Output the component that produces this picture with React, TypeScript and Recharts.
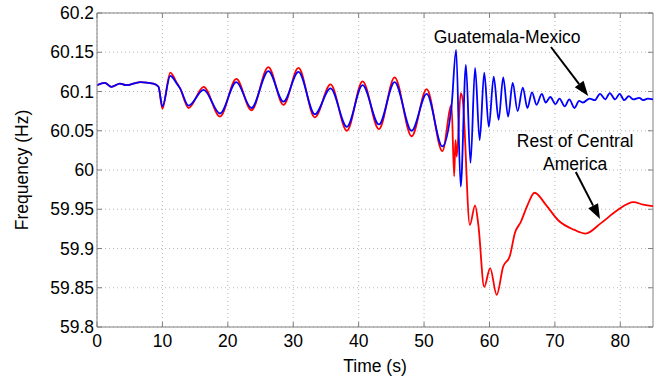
import { CartesianGrid, Line, LineChart, ReferenceDot, ReferenceLine, XAxis, YAxis } from "recharts";

// Guatemala-Mexico (blue)
const blueTime = [
  0, 1.2, 2.2, 3.5, 4.5, 6.6, 8.6, 9.4, 10.0, 11.2, 12.2, 12.7, 14.0, 16.3, 18.8, 21.3, 23.6, 26.2, 28.5,
  30.8, 33.3, 35.7, 38.2, 40.6, 43.1, 45.5, 48.1, 50.4, 52.8, 54.2, 54.9, 55.6, 56.4, 57.1, 57.8, 58.5,
  59.2, 59.9, 60.65, 61.4, 62.1, 62.85, 63.55, 64.3, 65.1, 65.8, 66.5, 67.2, 68.0, 68.6, 69.3, 70.1,
  70.7, 71.5, 72.2, 73.0, 73.7, 74.3, 75.3, 76.1, 76.9, 77.7, 78.4, 79.2, 79.9, 80.6, 81.3, 82.0, 82.9,
  83.5, 84.2, 85,
];
const blueFreq = [
  60.108, 60.111, 60.106, 60.11, 60.108, 60.112, 60.11, 60.106, 60.081, 60.12, 60.11, 60.104, 60.082,
  60.102, 60.072, 60.112, 60.079, 60.126, 60.087, 60.125, 60.071, 60.104, 60.055, 60.108, 60.058,
  60.112, 60.05, 60.097, 60.03, 60.081, 60.153, 59.979, 60.134, 60.009, 60.13, 60.038, 60.124, 60.055,
  60.119, 60.064, 60.118, 60.068, 60.111, 60.075, 60.105, 60.079, 60.099, 60.083, 60.097, 60.086,
  60.093, 60.084, 60.091, 60.081, 60.09, 60.079, 60.088, 60.086, 60.091, 60.089, 60.097, 60.09, 60.098,
  60.09, 60.097, 60.089, 60.094, 60.09, 60.092, 60.089, 60.091, 60.09,
];

// Rest of Central America (red)
const redTime = [
  0, 1.2, 2.2, 3.5, 4.5, 6.6, 8.6, 9.4, 10.0, 11.2, 12.2, 12.7, 14.0, 16.3, 18.8, 21.3, 23.6, 26.2, 28.5,
  30.8, 33.3, 35.7, 38.2, 40.6, 43.1, 45.5, 48.1, 50.4, 52.8, 54.2, 54.6, 54.8, 55.0, 55.6, 55.9, 57.0,
  57.8, 58.3, 59.2, 60.1, 61.1, 62.1, 63.1, 63.9, 64.8, 65.8, 66.9, 68.6, 70.5, 72.9, 74.7, 77.0, 79.6,
  82.0, 83.5, 85,
];
const redFreq = [
  60.108, 60.111, 60.106, 60.11, 60.108, 60.112, 60.11, 60.106, 60.078, 60.124, 60.111, 60.104, 60.079,
  60.106, 60.068, 60.116, 60.076, 60.131, 60.083, 60.13, 60.067, 60.109, 60.05, 60.113, 60.052, 60.118,
  60.043, 60.103, 60.024, 60.083, 59.992, 60.038, 60.017, 60.098, 60.09, 59.93, 59.955, 59.93, 59.851,
  59.875, 59.841, 59.877, 59.89, 59.92, 59.934, 59.955, 59.971, 59.956, 59.936, 59.924, 59.919, 59.932,
  59.949, 59.959, 59.956, 59.954,
];

const xTicks = [0, 10, 20, 30, 40, 50, 60, 70, 80];
const yTicks = [59.8, 59.85, 59.9, 59.95, 60, 60.05, 60.1, 60.15, 60.2];

const blueData = blueTime.map((t, i) => ({ t, f: blueFreq[i] }));
const redData = redTime.map((t, i) => ({ t, f: redFreq[i] }));

const W = 656;
const H = 381;
const PLOT_LEFT = 97;
const PLOT_RIGHT = 653;
const PLOT_TOP = 13;
const PLOT_BOTTOM = 327;
const AXIS = "#808080";
const FONT = 17.5;

const fmt = (v: number) => String(Number(v.toFixed(2)));

function YTick({ x, y, payload }: any) {
  return (
    <g>
      <line x1={x} x2={x + 5} y1={y} y2={y} stroke={AXIS} />
      <line x1={PLOT_RIGHT - 5} x2={PLOT_RIGHT} y1={y} y2={y} stroke={AXIS} />
      <text x={x - 3} y={y + 6} textAnchor="end" fontSize={FONT} fill="#000">
        {fmt(payload.value)}
      </text>
    </g>
  );
}

function XTick({ x, y, payload }: any) {
  return (
    <g>
      <line x1={x} x2={x} y1={y} y2={y - 5} stroke={AXIS} />
      <line x1={x} x2={x} y1={PLOT_TOP} y2={PLOT_TOP + 5} stroke={AXIS} />
      <text x={x} y={y + 20} textAnchor="middle" fontSize={FONT} fill="#000">
        {payload.value}
      </text>
    </g>
  );
}

function Arrow(props: any) {
  const { x1, y1, x2, y2 } = props;
  const ang = Math.atan2(y2 - y1, x2 - x1);
  const len = 15;
  const half = 5.5;
  const bx = x2 - len * Math.cos(ang);
  const by = y2 - len * Math.sin(ang);
  const px = -Math.sin(ang) * half;
  const py = Math.cos(ang) * half;
  return (
    <g>
      <line x1={x1} y1={y1} x2={bx} y2={by} stroke="#000" strokeWidth={2} />
      <polygon points={`${x2},${y2} ${bx + px},${by + py} ${bx - px},${by - py}`} fill="#000" />
    </g>
  );
}

export default function App() {
  return (
    <div
      style={{
        position: "absolute",
        left: 0,
        top: 0,
        width: W,
        height: H,
        background: "#fff",
        fontFamily: "'Liberation Sans', Arial, sans-serif",
      }}
    >
      <LineChart width={W} height={H} margin={{ top: PLOT_TOP, right: W - PLOT_RIGHT, bottom: 0, left: 0 }}>
        <CartesianGrid stroke="#b8b8b8" strokeDasharray="1 3" horizontalValues={yTicks} verticalValues={xTicks} />
        <XAxis
          type="number"
          dataKey="t"
          domain={[0, 85]}
          ticks={xTicks}
          height={H - PLOT_BOTTOM}
          tickSize={0}
          tickMargin={0}
          tickLine={false}
          stroke={AXIS}
          tick={<XTick />}
          allowDataOverflow
          label={{ value: "Time (s)", position: "center", dy: 12, fontSize: FONT, fill: "#000" }}
        />
        <YAxis
          type="number"
          domain={[59.8, 60.2]}
          ticks={yTicks}
          width={PLOT_LEFT}
          tickSize={0}
          tickMargin={0}
          tickLine={false}
          stroke={AXIS}
          tick={<YTick />}
          allowDataOverflow
          label={{ value: "Frequency (Hz)", angle: -90, position: "center", dx: -27, fontSize: FONT, fill: "#000" }}
        />
        <ReferenceLine y={60.2} stroke={AXIS} />
        <ReferenceLine x={85} stroke={AXIS} />
        <Line
          data={redData}
          dataKey="f"
          type="monotone"
          stroke="#ff0000"
          strokeWidth={1.8}
          dot={false}
          isAnimationActive={false}
        />
        <Line
          data={blueData}
          dataKey="f"
          type="monotone"
          stroke="#0000ff"
          strokeWidth={1.8}
          dot={false}
          isAnimationActive={false}
        />
        <ReferenceLine segment={[{ x: 69.4, y: 60.1567 }, { x: 75.1, y: 60.0943 }]} shape={<Arrow />} />
        <ReferenceLine segment={[{ x: 73.2, y: 59.9975 }, { x: 76.9, y: 59.9376 }]} shape={<Arrow />} />
        <ReferenceDot
          x={62.7}
          y={60.1694}
          r={0}
          stroke="none"
          label={{ value: "Guatemala-Mexico", position: "center", fontSize: FONT, fill: "#000" }}
        />
        <ReferenceDot
          x={73.1}
          y={60.037}
          r={0}
          stroke="none"
          label={{ value: "Rest of Central", position: "center", fontSize: FONT, fill: "#000" }}
        />
        <ReferenceDot
          x={73.1}
          y={60.0076}
          r={0}
          stroke="none"
          label={{ value: "America", position: "center", fontSize: FONT, fill: "#000" }}
        />
      </LineChart>
    </div>
  );
}
